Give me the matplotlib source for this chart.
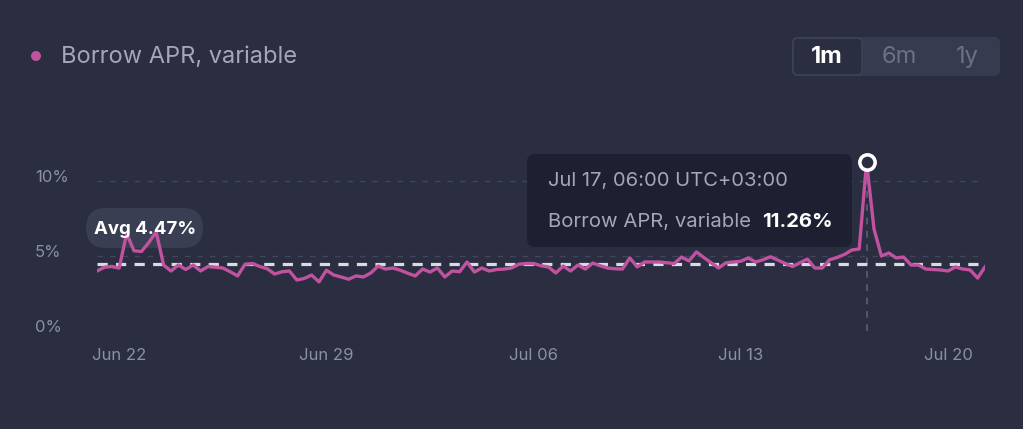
import matplotlib
matplotlib.use('Agg')
import matplotlib.pyplot as plt
import matplotlib.transforms as mtransforms
from matplotlib.patches import FancyBboxPatch, Circle
import numpy as np

# ---------------- data ----------------
series_name = 'Borrow APR, variable'
start_time = np.datetime64('2023-06-21T06:00')
step_hours = 6
apr_values = [
    4.0, 4.25, 4.3, 4.2, 6.5, 5.35, 5.3, 5.9, 6.6, 4.4,
    4.0, 4.4, 4.1, 4.4, 4.0, 4.3, 4.25, 4.2, 3.95, 3.67,
    4.45, 4.5, 4.3, 4.15, 3.8, 3.95, 4.0, 3.4, 3.5, 3.73,
    3.27, 4.05, 3.73, 3.6, 3.45, 3.67, 3.6, 3.87, 4.33, 4.13,
    4.2, 4.05, 3.85, 3.67, 4.13, 3.93, 4.2, 3.6, 4.0, 3.95,
    4.6, 3.93, 4.2, 4.0, 4.1, 4.13, 4.2, 4.45, 4.5, 4.5,
    4.35, 4.27, 3.87, 4.33, 4.0, 4.4, 4.13, 4.53, 4.35, 4.2,
    4.15, 4.13, 4.87, 4.27, 4.6, 4.6, 4.6, 4.55, 4.5, 4.93,
    4.67, 5.27, 4.9, 4.55, 4.2, 4.55, 4.6, 4.65, 4.87, 4.6,
    4.75, 4.95, 4.73, 4.5, 4.3, 4.55, 4.8, 4.2, 4.2, 4.75,
    4.9, 5.1, 5.4, 5.47, 11.26, 6.8, 5.0, 5.2, 4.87, 4.93,
    4.4, 4.4, 4.13, 4.1, 4.07, 4.0, 4.27, 4.13, 4.07, 3.53,
    4.27,
]
avg_value = 4.47
highlight_index = 104
tooltip_time = 'Jul 17, 06:00 UTC+03:00'

y_ticks = [0, 5, 10]
y_tick_labels = ['0%', '5%', '10%']
x_tick_dates = ['2023-06-22', '2023-06-29', '2023-07-06', '2023-07-13', '2023-07-20']
x_tick_labels = ['Jun 22', 'Jun 29', 'Jul 06', 'Jul 13', 'Jul 20']
periods = ['1m', '6m', '1y']

# ---------------- style ----------------
BG = '#2a2e40'
LINE = '#c052a0'
GRID = '#41465a'
TICK = '#8b90a4'
TEXT = '#a3a7b9'
TOOLTIP_BG = '#1d2031'
PILL_BG = '#3a3e52'
BTN_BG = '#373b4f'
FONT = ['Inter', 'DejaVu Sans']
plt.rcParams['font.family'] = FONT

W, H = 1023, 429
fig = plt.figure(figsize=(W / 100, H / 100), dpi=100, facecolor=BG)
ID = mtransforms.IdentityTransform()


def fy(y):
    return H - y


times = start_time + np.arange(len(apr_values)) * np.timedelta64(step_hours, 'h')
times = times.astype('datetime64[m]').astype(object)

ax = fig.add_axes([97 / W, 1 - 331 / H, 888 / W, 180 / H])
ax.set_facecolor(BG)
for s in ax.spines.values():
    s.set_visible(False)
ax.set_xlim(times[0], times[-1])
ax.set_ylim(0, 12)

# grid
for yv in y_ticks:
    ax.axhline(yv, color=GRID, lw=1, ls=(0, (4, 5)), zorder=1)

# ticks
ax.set_yticks(y_ticks)
ax.set_yticklabels(y_tick_labels)
ax.tick_params(axis='y', length=0, pad=62 * 0.72, labelsize=12, labelcolor=TICK)
shift = mtransforms.ScaledTranslation(0, 5 / 100, fig.dpi_scale_trans)
for lab in ax.get_yticklabels():
    lab.set_horizontalalignment('left')
    lab.set_transform(lab.get_transform() + shift)
xt = [np.datetime64(d).astype('datetime64[m]').astype(object) for d in x_tick_dates]
ax.set_xticks(xt)
ax.set_xticklabels(x_tick_labels)
ax.tick_params(axis='x', length=0, pad=12, labelsize=12, labelcolor=TICK)

# avg pill (below the line)
pill = FancyBboxPatch((86 + 20, fy(228)), 117 - 40, 0.0,
                      boxstyle='round,pad=20', transform=ID,
                      fc=PILL_BG, ec='none', zorder=2, clip_on=False)
ax.add_artist(pill)
ax.text(145 / W, 1 - 229 / H, f'Avg {avg_value:.2f}%', color='white',
        transform=fig.transFigure, fontsize=13.4, fontweight='bold',
        ha='center', va='center', zorder=8, clip_on=False)

# avg line
ax.axhline(avg_value, color='#d9dbe2', lw=2.3, ls=(0, (3.2, 2.6)), zorder=3)

# highlight vertical
ax.plot([times[highlight_index]] * 2, [0, apr_values[highlight_index]],
        color='#5b6074', lw=1.2, ls=(0, (4, 4)), zorder=2)

# series
ax.plot(times, apr_values, color=LINE, lw=2.4, zorder=4, solid_joinstyle='round')
ax.plot([times[highlight_index]], [apr_values[highlight_index]], marker='o', ms=11,
        mfc=BG, mec='white', mew=2.6, zorder=6, clip_on=False)

# tooltip
tip = FancyBboxPatch((527 + 8, fy(247) + 8), 325 - 16, 93 - 16,
                     boxstyle='round,pad=8', transform=ID,
                     fc=TOOLTIP_BG, ec='none', zorder=5)
fig.add_artist(tip)
fig.text(548 / W, 1 - 181 / H, tooltip_time, color=TEXT, fontsize=14.5,
         ha='left', va='center', zorder=7)
fig.text(548 / W, 1 - 222 / H, series_name, color=TEXT, fontsize=14.6,
         ha='left', va='center', zorder=7)
fig.text(833 / W, 1 - 222 / H, f'{apr_values[highlight_index]:.2f}%', color='white',
         fontsize=14.6, fontweight='bold', ha='right', va='center', zorder=7)

# legend
fig.add_artist(Circle((36, fy(56)), 5, transform=ID, fc=LINE, ec='none'))
fig.text(61 / W, 1 - 57 / H, series_name, color=TEXT, fontsize=17,
         ha='left', va='center')

# period buttons
grp = FancyBboxPatch((792 + 6, fy(76) + 6), 208 - 12, 39 - 12,
                     boxstyle='round,pad=6', transform=ID, fc=BTN_BG, ec='none')
fig.add_artist(grp)
act = FancyBboxPatch((793 + 5, fy(75) + 5), 69 - 10, 37 - 10,
                     boxstyle='round,pad=5', transform=ID, fc=BG, ec='#3f4458', lw=1)
fig.add_artist(act)
for label, cx, active in zip(periods, [827, 899, 967], [True, False, False]):
    fig.text(cx / W, 1 - 57 / H, label, color='white' if active else '#6c7186',
             fontsize=17, fontweight='bold' if active else 'normal',
             ha='center', va='center')

fig.savefig('out.png', dpi=100, facecolor=BG)
